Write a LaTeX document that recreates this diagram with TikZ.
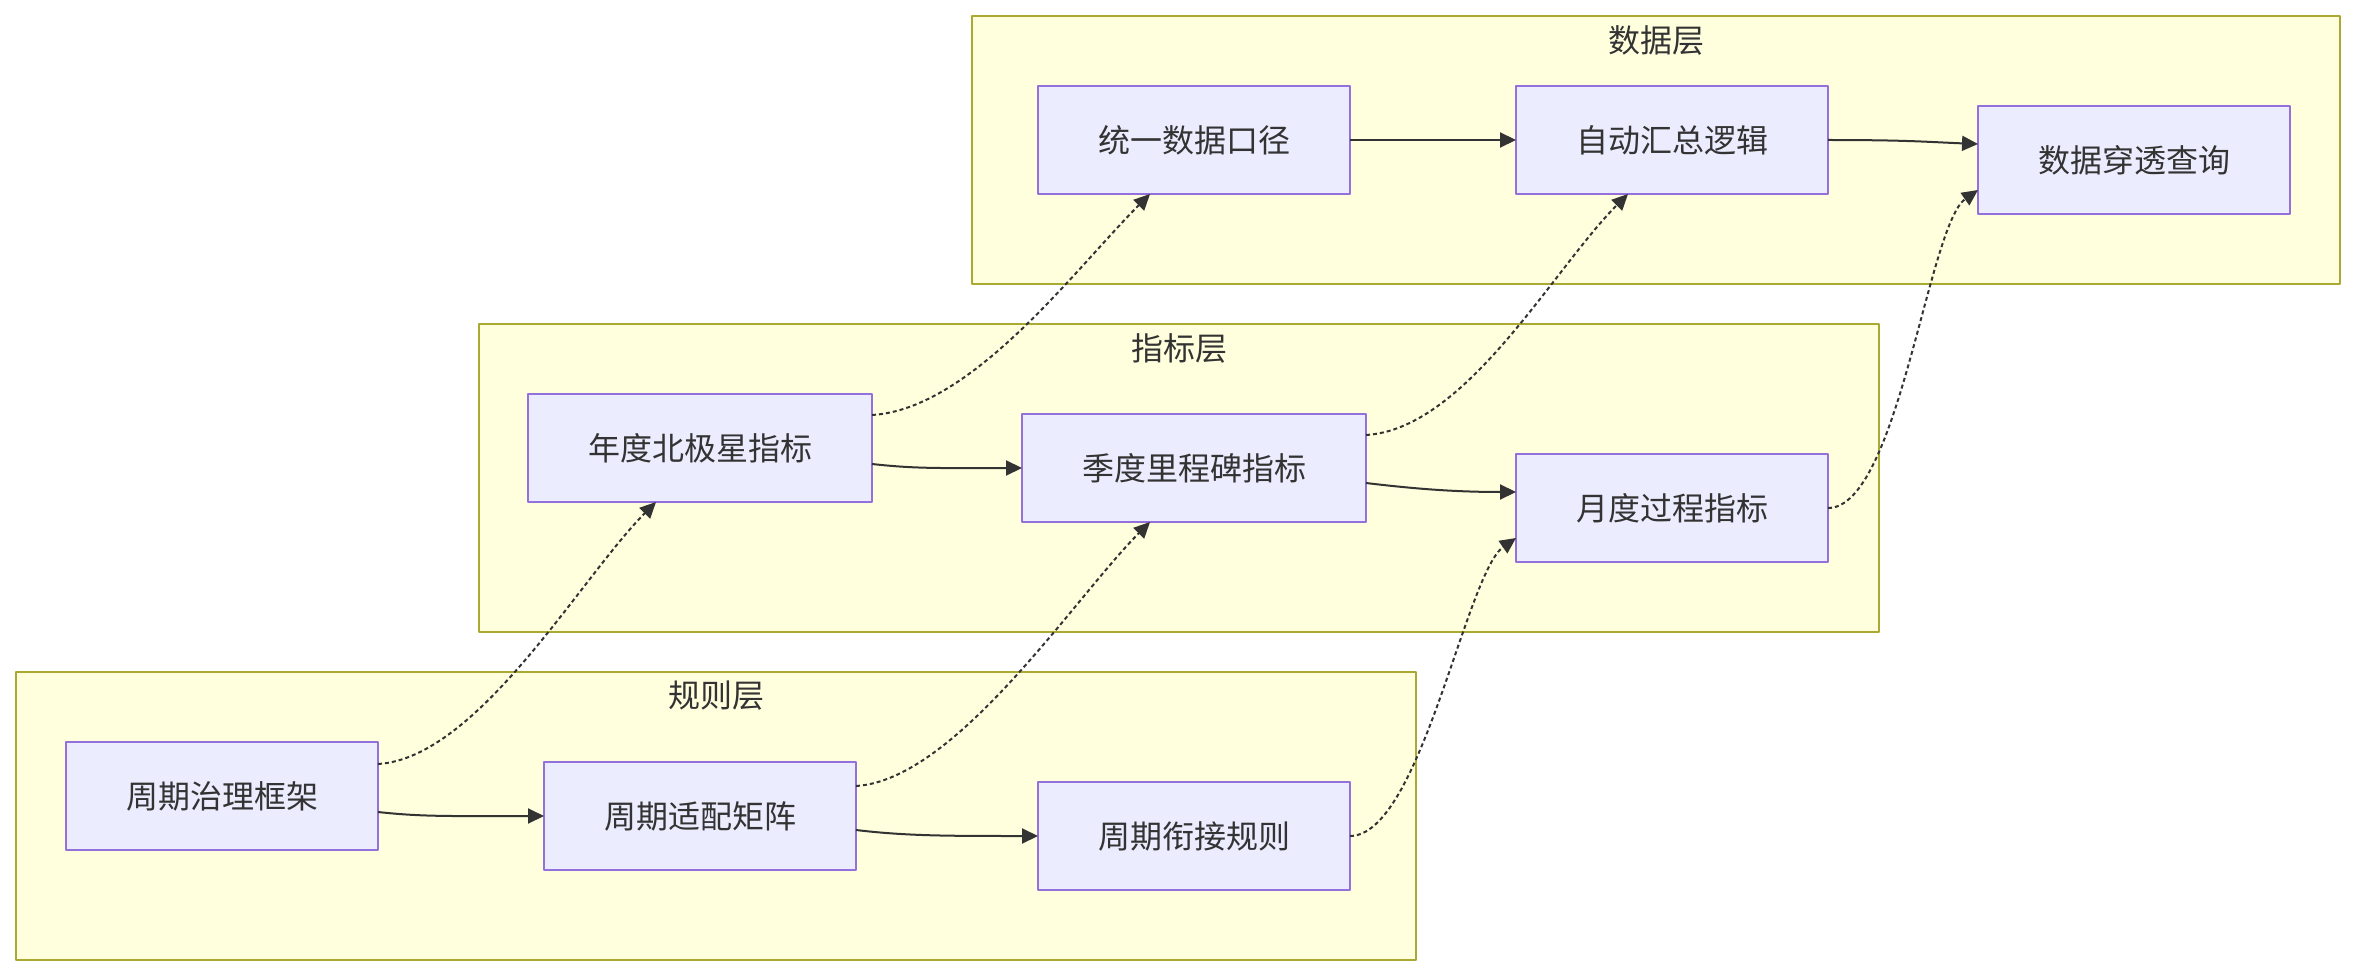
\documentclass[tikz,border=0pt]{standalone}
\usepackage{fontspec}
\setmainfont{Noto Sans CJK SC}
\usetikzlibrary{arrows.meta,calc}
\definecolor{cLayerFill}{HTML}{FFFFDE}
\definecolor{cLayerLine}{HTML}{AAAA33}
\definecolor{cNodeFill}{HTML}{ECECFF}
\definecolor{cNodeLine}{HTML}{9370DB}
\definecolor{cInk}{HTML}{333333}

\begin{document}
\begin{tikzpicture}[
  x=1pt, y=1pt,
  font=\fontsize{32}{38}\selectfont,
  line join=round,
  layerbox/.style={draw=cLayerLine, line width=2pt, fill=cLayerFill,
    inner sep=0pt, outer sep=0pt},
  layertitle/.style={text=cInk, inner sep=0pt},
  cell/.style={draw=cNodeLine, line width=2pt, fill=cNodeFill, text=cInk,
    minimum width=312pt, minimum height=108pt, inner sep=0pt, outer sep=0pt},
  widecell/.style={cell, minimum width=344pt},
  flow/.style={draw=cInk, line width=2pt,
    -{Triangle[length=16pt,width=15pt]}},
  dotflow/.style={flow, dash pattern=on 4pt off 3pt},
]
\useasboundingbox (0,0) rectangle (2356,-976);

% ---- Layers (background panels) ----
\node[layerbox, minimum width=1368pt, minimum height=268pt] (dataLayer) at (1656,-150) {};
\node[layertitle] (dataTitle) at ([yshift=-24pt]dataLayer.north) {数据层};

\node[layerbox, minimum width=1400pt, minimum height=308pt] (indLayer) at (1179,-478) {};
\node[layertitle] (indTitle) at ([yshift=-24pt]indLayer.north) {指标层};

\node[layerbox, minimum width=1400pt, minimum height=288pt] (ruleLayer) at (716,-816) {};
\node[layertitle] (ruleTitle) at ([yshift=-24pt]ruleLayer.north) {规则层};

% ---- Data layer ----
\node[cell] (unify) at (1194,-140) {统一数据口径};
\node[cell] (summary) at (1672,-140) {自动汇总逻辑};
\node[cell] (drill) at (2134,-160) {数据穿透查询};

% ---- Indicator layer ----
\node[widecell] (annual) at (700,-448) {年度北极星指标};
\node[widecell] (quarter) at (1194,-468) {季度里程碑指标};
\node[cell] (month) at (1672,-508) {月度过程指标};

% ---- Rule layer ----
\node[cell] (govFrame) at (222,-796) {周期治理框架};
\node[cell] (adaptMatrix) at (700,-816) {周期适配矩阵};
\node[cell] (linkRule) at (1194,-836) {周期衔接规则};

% ---- Flows inside each layer ----
\draw[flow] (unify) -- (summary);
\draw[flow] (summary.east) .. controls +(80,0) and +(-50,2) .. ([yshift=16pt]drill.west);

\draw[flow] ([yshift=-16pt]annual.east) .. controls +(45,-5) and +(-80,0) .. (quarter.west);
\draw[flow] ([yshift=-15pt]quarter.east) .. controls +(50,-6) and +(-60,0) .. ([yshift=16pt]month.west);

\draw[flow] ([yshift=-16pt]govFrame.east) .. controls +(45,-5) and +(-90,0) .. (adaptMatrix.west);
\draw[flow] ([yshift=-14pt]adaptMatrix.east) .. controls +(50,-6) and +(-90,0) .. (linkRule.west);

% ---- Dotted links between layers ----
\draw[dotflow] ([yshift=32pt]govFrame.east) .. controls +(100,6) and +(-75,-75) .. ([xshift=-44pt]annual.south);
\draw[dotflow] ([yshift=30pt]adaptMatrix.east) .. controls +(100,6) and +(-75,-75) .. ([xshift=-44pt]quarter.south);
\draw[dotflow] (linkRule.east) .. controls +(70,0) and +(-50,-35) .. ([yshift=-30pt]month.west);

\draw[dotflow] ([yshift=33pt]annual.east) .. controls +(100,6) and +(-75,-75) .. ([xshift=-44pt]unify.south);
\draw[dotflow] ([yshift=33pt]quarter.east) .. controls +(100,6) and +(-75,-75) .. ([xshift=-44pt]summary.south);
\draw[dotflow] (month.east) .. controls +(70,0) and +(-50,-35) .. ([yshift=-30pt]drill.west);

\end{tikzpicture}
\end{document}
